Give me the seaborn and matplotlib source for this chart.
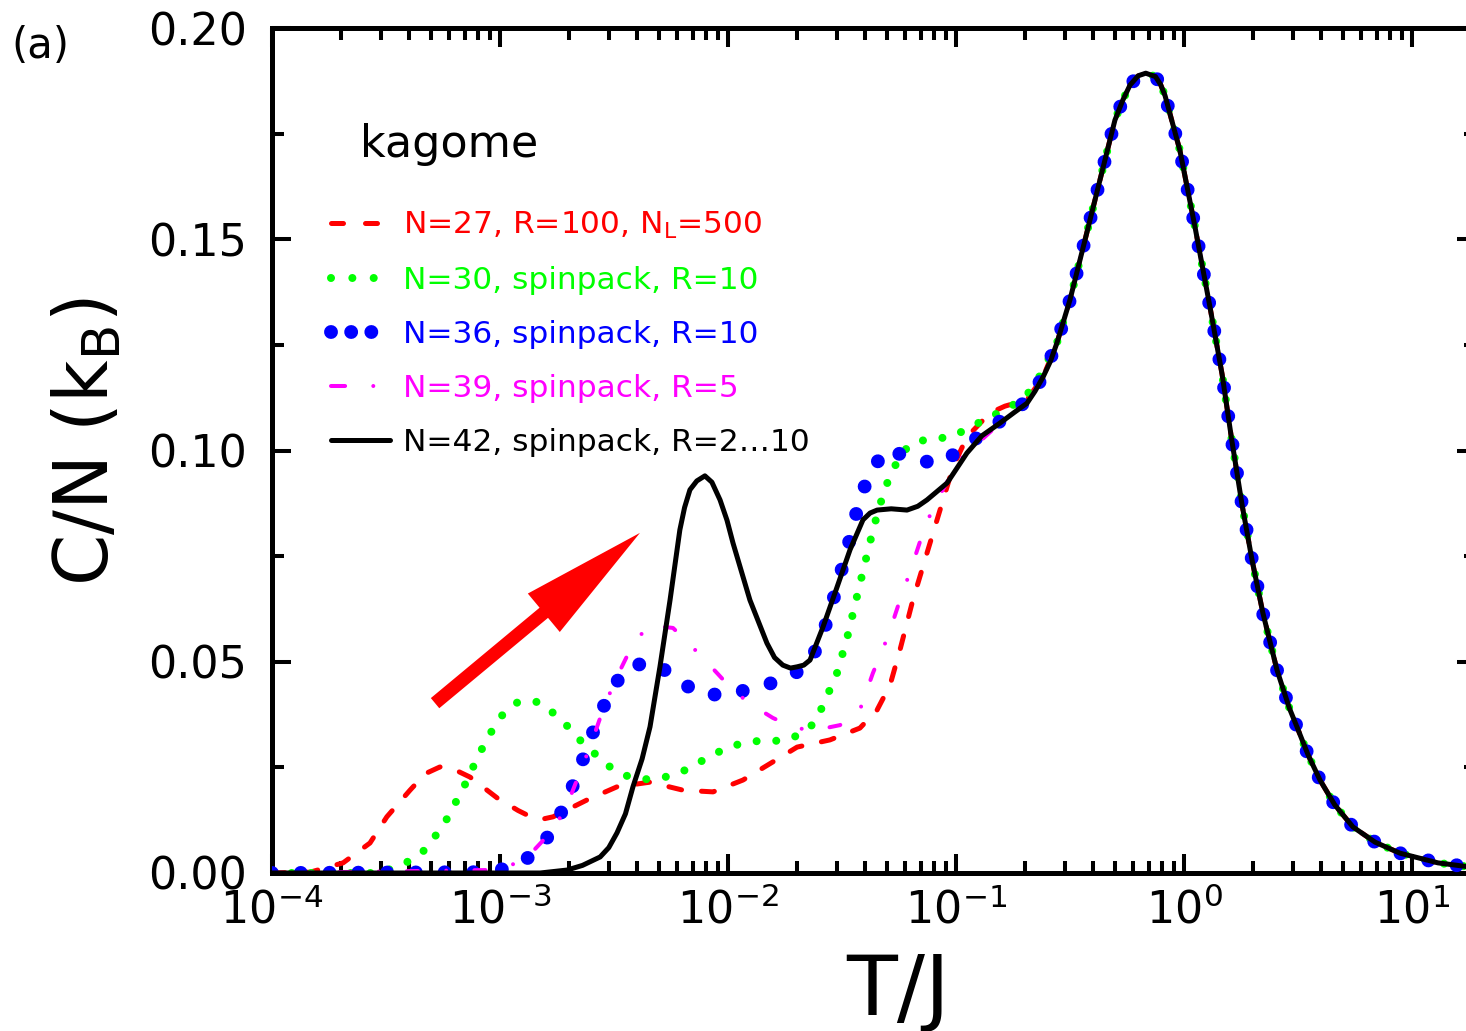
import numpy as np
import pandas as pd
import seaborn as sns
import matplotlib
matplotlib.use("Agg")
import matplotlib.pyplot as plt
from matplotlib.lines import Line2D
from matplotlib.ticker import MultipleLocator, LogLocator

# ---------------- data ----------------
# common high-temperature part (all cluster sizes coincide)
T_hi = [0.277, 0.316, 0.368, 0.428, 0.498, 0.54, 0.580, 0.63, 0.68, 0.75, 0.79, 0.826,
        0.96, 1.117, 1.30, 1.47, 1.62, 1.80, 1.99, 2.22, 2.56, 2.9, 3.13, 3.5, 3.95,
        4.59, 5.51, 6.89, 8.85, 13.0, 20.0]
C_hi = [0.1254, 0.1356, 0.1498, 0.164, 0.1782, 0.183, 0.1865, 0.1887, 0.1893, 0.1885,
        0.1866, 0.184, 0.171, 0.153, 0.134, 0.118, 0.1025, 0.087, 0.074, 0.0615, 0.048,
        0.039, 0.0346, 0.028, 0.022, 0.0161, 0.0109, 0.0073, 0.0047, 0.0024, 0.0011]

T27 = [1e-4, 1.47e-4, 2.05e-4, 2.69e-4, 3.19e-4, 4.03e-4, 4.7e-4, 5.45e-4, 6.3e-4,
       7.39e-4, 9.70e-4, 1.2e-3, 1.40e-3, 1.55e-3, 1.71e-3, 2.41e-3, 3.26e-3, 4.55e-3,
       6.35e-3, 8.6e-3, 0.01163, 0.01574, 0.0201, 0.0280, 0.0379, 0.0451, 0.0514, 0.0568,
       0.0647, 0.0746, 0.0851, 0.0971, 0.1117, 0.141, 0.164, 0.205, 0.241]
C27 = [0, 0.0002, 0.0024, 0.0071, 0.0133, 0.0196, 0.0235, 0.0251, 0.0245, 0.0227,
       0.0178, 0.0148, 0.0130, 0.0128, 0.0133, 0.0173, 0.0204, 0.0215, 0.0196, 0.0192,
       0.0220, 0.0263, 0.0298, 0.0315, 0.0343, 0.0386, 0.0445, 0.0528, 0.0646, 0.0757,
       0.0859, 0.0961, 0.1032, 0.1089, 0.1105, 0.1120, 0.1174]

T30 = [1e-4, 3.0e-4, 3.46e-4, 4.11e-4, 4.79e-4, 5.35e-4, 5.97e-4, 6.54e-4, 7.16e-4,
       7.76e-4, 8.41e-4, 9.31e-4, 1.04e-3, 1.20e-3, 1.47e-3, 1.71e-3, 1.99e-3, 2.24e-3,
       2.61e-3, 3.04e-3, 3.60e-3, 4.37e-3, 5.29e-3, 6.35e-3, 7.54e-3, 9.04e-3, 0.01084,
       0.0130, 0.0159, 0.0193, 0.0241, 0.0275, 0.0298, 0.0333, 0.0364, 0.0399, 0.0437,
       0.0488, 0.0574, 0.0668, 0.0809, 0.0971, 0.1164, 0.138, 0.166, 0.197, 0.222]
C30 = [0, 0, 0.0014, 0.0031, 0.0059, 0.0097, 0.0135, 0.0178, 0.0218, 0.0260, 0.0298,
       0.0341, 0.0379, 0.0405, 0.0405, 0.0379, 0.0346, 0.0315, 0.0282, 0.0251, 0.0230,
       0.0222, 0.0227, 0.0241, 0.0263, 0.0286, 0.0303, 0.0312, 0.0312, 0.0320, 0.0355,
       0.0425, 0.0466, 0.0556, 0.0644, 0.0734, 0.0821, 0.0911, 0.0994, 0.1022, 0.1027,
       0.1034, 0.1056, 0.1077, 0.1098, 0.1122, 0.1155]

T36 = [1e-4, 8.77e-4, 1.15e-3, 1.47e-3, 1.73e-3, 1.97e-3, 2.20e-3, 2.43e-3, 2.69e-3,
       3.04e-3, 3.57e-3, 4.65e-3, 5.86e-3, 7.46e-3, 0.0100, 0.01328, 0.0176, 0.0225,
       0.0256, 0.0280, 0.0303, 0.0329, 0.0353, 0.0379, 0.0420, 0.0498, 0.0641, 0.0851,
       0.1074, 0.138, 0.176, 0.218, 0.248]
C36 = [0, 0.0002, 0.0014, 0.0052, 0.0109, 0.0173, 0.0237, 0.0301, 0.0364, 0.0428,
       0.0485, 0.0502, 0.0462, 0.0424, 0.0421, 0.0440, 0.0457, 0.0492, 0.0554, 0.0618,
       0.0686, 0.0753, 0.0819, 0.0885, 0.0949, 0.1004, 0.0980, 0.0968, 0.1006, 0.1049,
       0.1089, 0.1131, 0.1193]

T39 = [1e-4, 8.77e-4, 1.26e-3, 1.66e-3, 1.93e-3, 2.20e-3, 2.48e-3, 2.75e-3, 3.16e-3,
       3.72e-3, 4.46e-3, 5.74e-3, 7.62e-3, 0.01021, 0.01236, 0.01574, 0.0197, 0.0241,
       0.0310, 0.0379, 0.0432, 0.0504, 0.0568, 0.0628, 0.0716, 0.0792, 0.0923, 0.104,
       0.156, 0.205, 0.241]
C39 = [0, 0.0007, 0.0026, 0.0095, 0.0149, 0.0227, 0.0298, 0.0367, 0.0450, 0.0528,
       0.0587, 0.0580, 0.0514, 0.0440, 0.0402, 0.0367, 0.0343, 0.0338, 0.0350, 0.0386,
       0.0473, 0.0561, 0.0646, 0.0712, 0.0805, 0.0864, 0.0930, 0.0978, 0.1065, 0.1112,
       0.1174]

T42 = [1e-4, 1.5e-3, 1.97e-3, 2.3e-3, 2.75e-3, 3.0e-3, 3.26e-3, 3.55e-3, 3.83e-3,
       4.2e-3, 4.55e-3, 5.03e-3, 5.57e-3, 6.15e-3, 6.45e-3, 6.81e-3, 7.3e-3, 7.92e-3,
       8.5e-3, 9.23e-3, 0.0099, 0.01052, 0.01248, 0.01482, 0.0160, 0.0174, 0.0188,
       0.0201, 0.0215, 0.0229, 0.0261, 0.0301, 0.0343, 0.0391, 0.042, 0.0451, 0.052,
       0.061, 0.068, 0.0746, 0.0914, 0.1117, 0.13, 0.156, 0.18, 0.205, 0.222, 0.241, 0.26]
C42 = [0, 0, 0.0007, 0.0018, 0.0038, 0.0060, 0.0095, 0.0140, 0.0204, 0.0270, 0.0346,
       0.0488, 0.0646, 0.0812, 0.0865, 0.0907, 0.0928, 0.0940, 0.0925, 0.0883, 0.0835,
       0.0781, 0.0646, 0.0544, 0.0510, 0.0492, 0.0485, 0.0488, 0.0492, 0.0504, 0.0582,
       0.0677, 0.0765, 0.0836, 0.0852, 0.0859, 0.0862, 0.0859, 0.0868, 0.0883, 0.0923,
       0.0994, 0.1035, 0.1065, 0.1090, 0.1112, 0.1140, 0.1174, 0.1212]

labels = ["N=27, R=100, N$_\\mathrm{L}$=500",
          "N=30, spinpack, R=10",
          "N=36, spinpack, R=10",
          "N=39, spinpack, R=5",
          "N=42, spinpack, R=2\u202610"]
colors = ["#ff0000", "#00ff00", "#0000ff", "#ff00ff", "#000000"]
x_ticks = [1e-4, 1e-3, 1e-2, 1e-1, 1e0, 1e1]

# ---------------- figure ----------------
sns.set_theme(style="ticks")
plt.rcParams["font.family"] = ["DejaVu Sans"]
plt.rcParams["mathtext.default"] = "regular"
plt.rcParams["axes.facecolor"] = "white"

fig = plt.figure(figsize=(14.66, 10.31), dpi=100)
ax = fig.add_axes([0.18554, 0.15325, 0.8213, 0.81959])
ax.set_xscale("log")

series = [(T27, C27), (T30, C30), (T36, C36), (T39, C39), (T42, C42)]
styles = [
    dict(lw=3.6, linestyle=(0, (2.6, 4.0)), dash_capstyle="round"),
    dict(lw=5.8, linestyle=(0, (0.001, 2.44)), dash_capstyle="round"),
    dict(lw=10.0, linestyle=(0, (0.001, 2.07)), dash_capstyle="round"),
    dict(lw=2.9, linestyle=(0, (2.75, 7.0, 0.001, 7.0)), dash_capstyle="round"),
    dict(lw=3.6, linestyle="-", solid_capstyle="round", solid_joinstyle="round"),
]
for i, ((T, C), st) in enumerate(zip(series, styles)):
    df = pd.DataFrame({"T": list(T) + T_hi, "C": list(C) + C_hi})
    sns.lineplot(data=df, x="T", y="C", ax=ax, color=colors[i], estimator=None,
                 sort=False, zorder=2 + i, **st)

ax.set_xlim(1e-4, 19.1)
ax.set_ylim(0, 0.2)
ax.set_xticks(x_ticks)
ax.xaxis.set_minor_locator(LogLocator(base=10, subs=np.arange(2, 10)))
ax.yaxis.set_major_locator(MultipleLocator(0.05))
ax.yaxis.set_minor_locator(MultipleLocator(0.025))
ax.yaxis.set_major_formatter(matplotlib.ticker.FormatStrFormatter("%.2f"))

for sp in ax.spines.values():
    sp.set_linewidth(3.6)
    sp.set_color("black")
    sp.set_visible(True)
ax.tick_params(which="both", direction="in", top=True, right=True, color="black",
               width=2.9, labelsize=32, labelcolor="black")
ax.tick_params(which="major", length=14)
ax.tick_params(which="minor", length=8.6)
ax.tick_params(axis="y", which="major", pad=18)
ax.tick_params(axis="x", which="major", pad=11)

ax.set_xlabel("T/J", fontsize=60, color="black")
ax.set_ylabel("C/N (k$_\\mathrm{B}$)", fontsize=53, color="black")
ax.xaxis.set_label_coords(0.52, -0.092)
ax.yaxis.set_label_coords(-0.122, 0.51)

# legend with hand-made handles
leg_handles = [
    Line2D([], [], color=colors[0], lw=3.6, linestyle=(0, (2.4, 4.4)), dash_capstyle="round"),
    Line2D([], [], color=colors[1], lw=5.8, linestyle=(0, (0.001, 2.65)), dash_capstyle="round"),
    Line2D([], [], color=colors[2], lw=10.0, linestyle=(0, (0.001, 1.45)), dash_capstyle="round"),
    Line2D([], [], color=colors[3], lw=2.9, linestyle=(0, (3.5, 7.0, 0.001, 7.0)), dash_capstyle="round"),
    Line2D([], [], color=colors[4], lw=3.6, linestyle="-"),
]
leg = ax.legend(leg_handles, labels, loc="upper left", bbox_to_anchor=(0.049, 0.785),
                frameon=False, fontsize=22.5, handlelength=1.9, handletextpad=0.4,
                labelspacing=0.8, borderpad=0, borderaxespad=0)
for txt, c in zip(leg.get_texts(), colors):
    txt.set_color(c)

ax.text(0.0731, 0.8473, "kagome", transform=ax.transAxes, fontsize=32,
        color="black", va="baseline", ha="left")
fig.text(11 / 1466, 1 - 58 / 1031, "(a)", fontsize=30, color="black",
         va="baseline", ha="left")

ax.annotate("", xy=(4.11e-3, 0.0805), xytext=(5.19e-4, 0.0402),
            arrowprops=dict(arrowstyle="simple,head_length=90,head_width=36,tail_width=9.5",
                            mutation_scale=1, color="#ff0000", shrinkA=0, shrinkB=0, lw=0),
            zorder=10)

fig.savefig("out.png", dpi=100)
